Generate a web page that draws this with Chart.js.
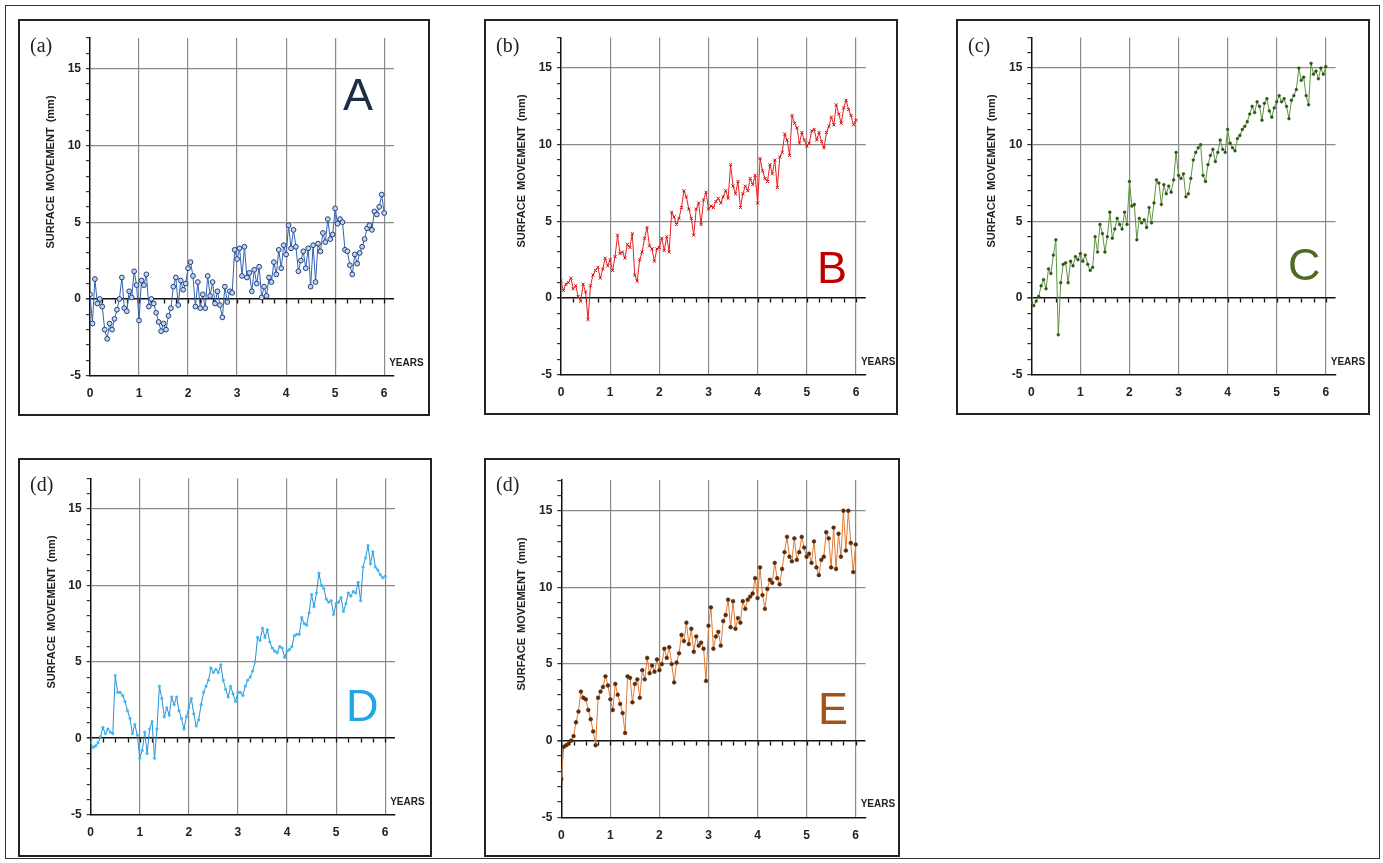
<!DOCTYPE html>
<html>
<head>
<meta charset="utf-8">
<title>Surface movement</title>
<script src="https://cdn.jsdelivr.net/npm/chart.js@4.4.1/dist/chart.umd.min.js"></script>
<style>
  body { margin: 0; background: #fff; width: 1383px; height: 863px; position: relative; overflow: hidden;
         font-family: "Liberation Sans", Arial, sans-serif; }
  #frame { position: absolute; left: 5px; top: 5px; width: 1375px; height: 854px; border: 1px solid #333; box-sizing: border-box; }
  .panel { position: absolute; border: 2px solid #222; box-sizing: border-box; }
  .tag { position: absolute; font-family: "Liberation Serif", "Times New Roman", serif; font-size: 20px; line-height: 20px; color: #222; }
  .big { position: absolute; font-size: 45px; line-height: 45px; }
  .years { position: absolute; font-size: 10px; line-height: 10px; font-weight: bold; color: #222; }
  .ytitle { position: absolute; font-size: 11px; line-height: 11px; font-weight: bold; color: #222; white-space: pre;
            word-spacing: 2px; transform: translate(-50%, -50%) rotate(-90deg); }
</style>
</head>
<body>
<div id="frame"></div>
<script>
// sample times (years)
const years = [
  0, 0.05, 0.1, 0.15, 0.2, 0.25, 0.3, 0.35, 0.4, 0.45, 0.5, 0.55, 0.6, 0.65, 0.7, 0.75, 0.8, 0.85, 0.9, 0.95,
  1, 1.05, 1.1, 1.15, 1.2, 1.25, 1.3, 1.35, 1.4, 1.45, 1.5, 1.55, 1.6, 1.65, 1.7, 1.75, 1.8, 1.85, 1.9, 1.95,
  2, 2.05, 2.1, 2.15, 2.2, 2.25, 2.3, 2.35, 2.4, 2.45, 2.5, 2.55, 2.6, 2.65, 2.7, 2.75, 2.8, 2.85, 2.9, 2.95,
  3, 3.05, 3.1, 3.15, 3.2, 3.25, 3.3, 3.35, 3.4, 3.45, 3.5, 3.55, 3.6, 3.65, 3.7, 3.75, 3.8, 3.85, 3.9, 3.95,
  4, 4.05, 4.1, 4.15, 4.2, 4.25, 4.3, 4.35, 4.4, 4.45, 4.5, 4.55, 4.6, 4.65, 4.7, 4.75, 4.8, 4.85, 4.9, 4.95,
  5, 5.05, 5.1, 5.15, 5.2, 5.25, 5.3, 5.35, 5.4, 5.45, 5.5, 5.55, 5.6, 5.65, 5.7, 5.75, 5.8, 5.85, 5.9, 5.95, 6
];

// surface movement (mm), one list per panel
const seriesA = [
  0.3, -1.6, 1.3, -0.3, 0.0, -0.5, -2.0, -2.6, -1.6, -2.0, -1.3, -0.7, 0.0, 1.4, -0.6, -0.8, 0.5, 0.1, 1.8, 0.9,
  -1.4, 1.2, 0.9, 1.6, -0.5, 0.0, -0.3, -0.9, -1.5, -2.1, -1.6, -2.0, -1.1, -0.6, 0.8, 1.4, -0.4, 1.2, 0.6, 1.0,
  2.0, 2.4, 1.5, -0.5, 1.1, -0.6, 0.3, -0.6, 1.5, 0.2, 1.1, -0.3, 0.5, -0.4, -1.2, 0.8, -0.2, 0.5, 0.4, 3.2,
  2.6, 3.3, 1.5, 3.4, 1.4, 1.7, 0.5, 1.9, 1.0, 2.1, 0.1, 0.8, 0.2, 1.4, 1.1, 2.4, 1.6, 3.2, 2.0, 3.5,
  2.9, 4.8, 3.3, 4.5, 3.4, 1.8, 2.5, 3.1, 2.0, 3.3, 0.8, 3.5, 1.1, 3.6, 3.1, 4.3, 3.7, 5.2, 3.9, 4.2,
  5.9, 4.9, 5.2, 5.0, 3.2, 3.1, 2.2, 1.6, 2.9, 2.3, 3.0, 3.4, 3.9, 4.6, 4.8, 4.5, 5.7, 5.5, 6.0, 6.8, 5.6
];
const seriesB = [
  1.1, 0.5, 0.9, 1.0, 1.3, 0.6, 0.8, 0.1, -0.2, 0.9, 0.4, -1.4, 0.8, 1.5, 1.8, 2.0, 1.3, 1.9, 2.6, 2.1,
  2.5, 1.8, 2.7, 4.1, 2.9, 3.0, 2.6, 3.5, 3.3, 4.2, 1.5, 1.1, 2.5, 3.0, 3.9, 4.6, 3.4, 3.2, 2.4, 3.2,
  3.3, 3.9, 3.1, 4.0, 3.0, 5.6, 5.3, 4.8, 5.2, 5.9, 7.0, 6.6, 5.8, 5.2, 4.1, 5.8, 6.2, 4.8, 6.4, 6.9,
  5.8, 6.0, 5.9, 6.3, 6.5, 6.2, 6.6, 7.0, 6.5, 8.7, 7.3, 6.8, 7.6, 5.9, 6.8, 7.3, 7.0, 7.8, 7.4, 8.0,
  6.2, 9.1, 8.3, 7.8, 7.6, 8.7, 8.1, 9.0, 7.2, 9.2, 9.5, 10.7, 10.3, 9.3, 11.9, 11.4, 11.1, 10.1, 10.8, 10.3,
  9.9, 10.1, 10.9, 11.0, 10.3, 10.8, 10.2, 9.8, 10.8, 11.2, 11.8, 11.3, 12.6, 12.0, 11.4, 12.4, 12.9, 12.3, 11.9, 11.3, 11.6
];
const seriesC = [
  -0.3, -0.5, -0.2, 0.1, 0.8, 1.2, 0.6, 1.9, 1.6, 2.8, 3.8, -2.4, 1.0, 2.2, 2.3, 1.0, 2.4, 2.1, 2.7, 2.5,
  2.9, 2.4, 2.8, 2.2, 1.8, 2.0, 4.0, 3.0, 4.8, 4.2, 3.0, 4.0, 5.6, 3.9, 4.5, 5.2, 4.8, 4.5, 5.6, 4.8,
  7.6, 6.0, 6.1, 3.8, 5.2, 4.9, 5.1, 4.6, 5.9, 4.9, 6.2, 7.7, 7.5, 6.1, 7.4, 6.8, 7.3, 6.9, 7.7, 9.5,
  8.0, 7.8, 8.1, 6.6, 6.8, 7.8, 9.0, 9.5, 9.8, 10.0, 8.0, 7.6, 8.7, 9.3, 9.7, 8.9, 9.5, 10.3, 9.7, 9.5,
  11.0, 10.1, 9.8, 9.6, 10.4, 10.6, 11.0, 11.2, 11.5, 12.0, 12.5, 12.1, 12.8, 12.5, 11.6, 12.7, 13.0, 12.2, 11.8, 12.4,
  12.8, 13.2, 12.8, 13.0, 12.5, 11.7, 12.9, 13.2, 13.6, 15.0, 14.2, 14.4, 13.2, 12.6, 15.3, 14.6, 14.8, 14.3, 15.0, 14.6, 15.1
];
const seriesD = [
  -0.3, -0.6, -0.5, -0.3, 0.1, 0.7, 0.3, 0.6, 0.4, 0.3, 4.1, 3.0, 3.0, 2.8, 2.4, 1.8, 1.3, 0.3, 0.9, 0.2,
  -1.3, -0.8, 0.4, -1.0, 0.6, 1.1, -1.3, 0.6, 3.4, 2.6, 1.4, 2.0, 1.5, 2.7, 2.2, 2.7, 1.8, 1.3, 0.6, 1.4,
  2.0, 2.6, 1.6, 0.8, 1.2, 2.2, 3.0, 3.4, 3.8, 4.6, 4.3, 4.5, 4.3, 4.8, 3.8, 3.2, 2.7, 3.4, 2.9, 2.4,
  3.0, 3.0, 2.8, 3.4, 3.8, 4.0, 4.4, 5.0, 6.6, 6.4, 7.2, 6.6, 7.1, 6.3, 5.9, 5.7, 5.6, 6.0, 5.9, 5.3,
  5.7, 5.8, 6.0, 6.7, 6.8, 6.8, 7.9, 7.5, 7.4, 8.2, 9.4, 8.6, 9.5, 10.8, 10.0, 9.8, 9.1, 8.9, 9.0, 8.1,
  8.8, 8.9, 9.2, 8.3, 8.8, 9.5, 9.3, 9.6, 9.5, 10.2, 9.0, 11.2, 11.8, 12.6, 11.4, 12.2, 11.2, 11.0, 10.7, 10.5, 10.6
];
const seriesE = [
  -2.5, -0.4, -0.3, -0.2, 0.0, 0.3, 1.2, 1.9, 3.2, 2.8, 2.7, 2.0, 1.4, 0.6, -0.3, 2.8, 3.2, 3.5, 4.2, 3.6,
  2.7, 2.0, 3.7, 3.0, 2.4, 1.8, 0.5, 4.2, 4.1, 2.5, 3.7, 4.0, 2.8, 4.6, 4.0, 5.4, 4.4, 4.9, 4.5, 5.3,
  4.6, 5.0, 6.0, 5.4, 6.1, 5.0, 3.8, 5.1, 5.7, 6.9, 6.5, 7.7, 6.3, 7.3, 5.8, 6.8, 6.2, 6.4, 6.0, 3.9,
  7.5, 8.7, 6.0, 6.8, 7.1, 6.2, 7.8, 8.2, 9.2, 7.4, 9.1, 7.3, 8.0, 7.7, 9.1, 8.6, 9.2, 9.4, 9.6, 10.6,
  9.3, 11.3, 9.5, 8.6, 9.9, 10.5, 10.3, 11.6, 10.6, 10.2, 11.2, 12.3, 13.3, 12.0, 11.7, 13.2, 11.8, 12.3, 13.3, 12.6,
  12.0, 12.2, 11.6, 13.0, 11.3, 10.8, 11.8, 12.0, 13.6, 13.2, 11.3, 13.9, 11.2, 13.5, 12.0, 15.0, 12.4, 15.0, 12.9, 11.0, 12.8
];

// tick labels
const yearTicks = [0, 1, 2, 3, 4, 5, 6];
const mmTicks = [-5, 0, 5, 10, 15];

const tickFont = { family: "'Liberation Sans', Arial, sans-serif", size: 12, weight: 'bold' };

// page layout of each panel: frame box and plot area [left, top, right, bottom]
const panels = [
  { tag: '(a)', letter: 'A', letterColor: '#1c2d4a', letterAt: [343, 72], values: seriesA,
    box: [18, 19, 430, 416], area: [90, 38, 394, 375.7],
    line: '#2f63b5', pointStyle: 'circle', radius: 2.4, pointFill: '#c3d3ea', pointEdge: '#1e3f7e', pointEdgeW: 1 },
  { tag: '(b)', letter: 'B', letterColor: '#c00000', letterAt: [817, 245], values: seriesB,
    box: [484, 19, 898, 415], area: [561, 37.4, 865.8, 374.7],
    line: '#e32222', pointStyle: 'crossRot', radius: 2.2, pointFill: '#d01010', pointEdge: '#c80d0d', pointEdgeW: 1 },
  { tag: '(c)', letter: 'C', letterColor: '#4e6a23', letterAt: [1288, 242], values: seriesC,
    box: [956, 19, 1370, 415], area: [1031.3, 37.4, 1335.6, 374.7],
    line: '#5c9440', pointStyle: 'circle', radius: 1.4, pointFill: '#2d5514', pointEdge: '#2d5514', pointEdgeW: 0.5 },
  { tag: '(d)', letter: 'D', letterColor: '#1ea7e4', letterAt: [346, 683], values: seriesD,
    box: [18, 458, 432, 857], area: [90.7, 478.4, 395, 814.7],
    line: '#2a8fd4', pointStyle: 'circle', radius: 1.3, pointFill: '#3cb8f0', pointEdge: '#3cb8f0', pointEdgeW: 0.5 },
  { tag: '(d)', letter: 'E', letterColor: '#a3521b', letterAt: [818, 686], values: seriesE,
    box: [484, 458, 900, 857], area: [561.3, 480.1, 865.5, 817.3],
    line: '#e07a32', pointStyle: 'circle', radius: 1.9, pointFill: '#5a2a0a', pointEdge: '#5a2a0a', pointEdgeW: 0.5 }
];

// small tick marks along the zero line, every quarter year
const zeroTicks = {
  id: 'zeroTicks',
  beforeDatasetsDraw(chart) {
    const { ctx, scales: { x, y } } = chart;
    const y0 = Math.round(y.getPixelForValue(0)) + 0.5;
    ctx.save();
    ctx.strokeStyle = '#111';
    ctx.lineWidth = 1.3;
    ctx.beginPath();
    for (let q = 1; q <= 24; q++) {
      const px = Math.round(x.getPixelForValue(q / 4)) + 0.5;
      ctx.moveTo(px, y0);
      ctx.lineTo(px, y0 + 4);
    }
    ctx.stroke();
    ctx.restore();
  }
};

function addText(cls, text, left, top, color) {
  const el = document.createElement('div');
  el.className = cls;
  el.textContent = text;
  el.style.left = left + 'px';
  el.style.top = top + 'px';
  if (color) el.style.color = color;
  document.body.appendChild(el);
  return el;
}

function drawPanel(p) {
  const [bx1, by1, bx2, by2] = p.box;
  const frame = document.createElement('div');
  frame.className = 'panel';
  frame.style.left = bx1 + 'px';
  frame.style.top = by1 + 'px';
  frame.style.width = (bx2 - bx1) + 'px';
  frame.style.height = (by2 - by1) + 'px';
  document.body.appendChild(frame);

  const cx = bx1 + 2, cy = by1 + 2, cw = bx2 - bx1 - 4, ch = by2 - by1 - 4;
  const canvas = document.createElement('canvas');
  canvas.width = cw;
  canvas.height = ch;
  canvas.style.position = 'absolute';
  canvas.style.left = cx + 'px';
  canvas.style.top = cy + 'px';
  document.body.appendChild(canvas);

  const [al, at, ar, ab] = p.area;
  const yw = al - cx, padTop = at - cy, padRight = cx + cw - ar, xh = cy + ch - ab;

  new Chart(canvas, {
    type: 'line',
    data: {
      datasets: [{
        data: years.map((t, i) => ({ x: t, y: p.values[i] })),
        borderColor: p.line,
        borderWidth: 1,
        tension: 0,
        pointStyle: p.pointStyle,
        pointRadius: p.radius,
        pointBackgroundColor: p.pointFill,
        pointBorderColor: p.pointEdge,
        pointBorderWidth: p.pointEdgeW
      }]
    },
    options: {
      responsive: false,
      animation: false,
      devicePixelRatio: 1,
      layout: { padding: { left: 0, top: padTop, right: padRight, bottom: 0 } },
      plugins: { legend: { display: false }, tooltip: { enabled: false } },
      scales: {
        x: {
          type: 'linear', min: 0, max: 6.2,
          afterFit: s => { s.height = xh; },
          border: { color: '#111', width: 1.5 },
          grid: {
            drawTicks: false,
            color: c => (c.tick && c.tick.value > 0 ? '#8a8a8a' : 'rgba(0,0,0,0)'),
            lineWidth: 1.2
          },
          ticks: {
            stepSize: 1, includeBounds: false, autoSkip: false, maxRotation: 0, padding: 11,
            color: '#222', font: tickFont,
            callback: v => (yearTicks.includes(v) ? String(v) : '')
          }
        },
        y: {
          min: -5, max: 17,
          afterFit: s => { s.width = yw; },
          border: { color: '#111', width: 1.5 },
          grid: {
            color: c => {
              const v = c.tick ? c.tick.value : null;
              if (v === 0) return '#111';
              if (v === 5 || v === 10 || v === 15) return '#8a8a8a';
              return 'rgba(0,0,0,0)';
            },
            lineWidth: c => (c.tick && c.tick.value === 0 ? 1.6 : 1.2),
            tickColor: '#333',
            tickLength: 4
          },
          ticks: {
            stepSize: 1, autoSkip: false, padding: 5,
            color: '#222', font: tickFont,
            callback: v => (mmTicks.includes(v) ? String(v) : '')
          }
        }
      }
    },
    plugins: [zeroTicks]
  });

  // labels around the plot
  addText('tag', p.tag, bx1 + 12, by1 + 16);
  addText('big', p.letter, p.letterAt[0], p.letterAt[1], p.letterColor);
  const x6 = al + (ar - al) * 6 / 6.2;
  addText('years', 'YEARS', x6 + 5, ab - 18);
  addText('ytitle', 'SURFACE MOVEMENT (mm)', al - 40, at + 134);
}

panels.forEach(drawPanel);
</script>
</body>
</html>
